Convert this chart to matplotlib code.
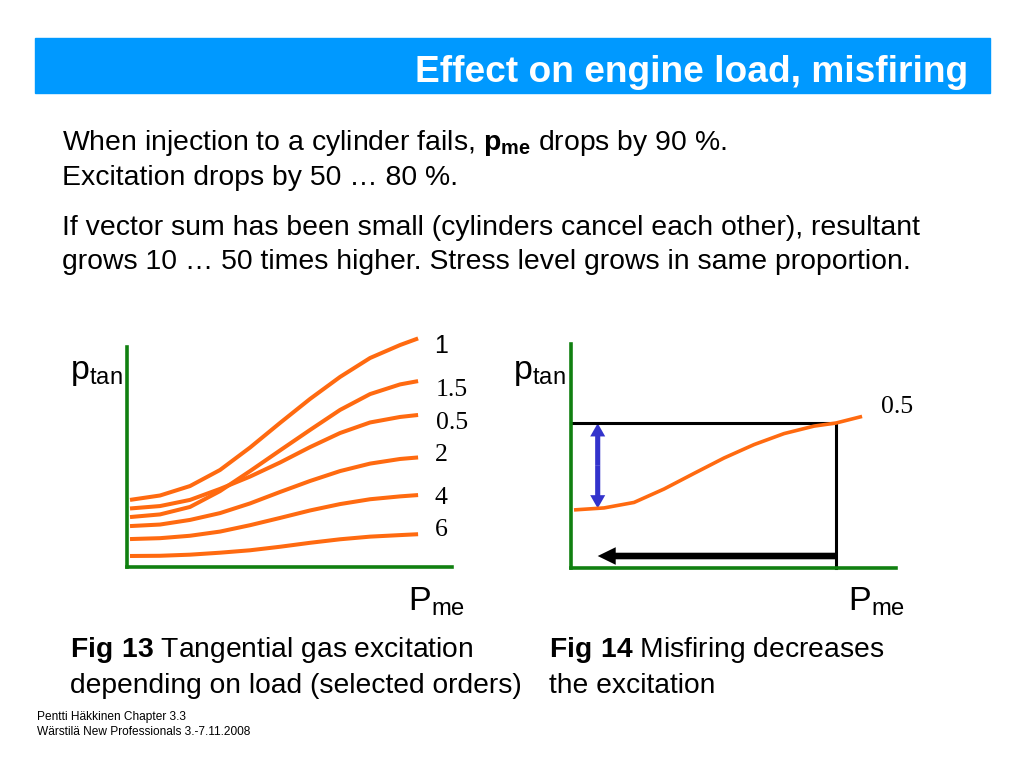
import matplotlib
matplotlib.use('Agg')
import matplotlib.pyplot as plt
from matplotlib.patches import Rectangle

# Data (arbitrary units)
p_me = [0, 1, 2, 3, 4, 5, 6, 7, 8, 9, 9.6]
orders = ['1', '1.5', '0.5', '2', '4', '6']
p_tan = {
    '1':   [3.05, 3.25, 3.68, 4.41, 5.43, 6.55, 7.64, 8.64, 9.50, 10.09, 10.39],
    '1.5': [2.27, 2.39, 2.73, 3.45, 4.36, 5.30, 6.23, 7.14, 7.86, 8.30, 8.45],
    '0.5': [2.66, 2.77, 3.05, 3.55, 4.11, 4.75, 5.45, 6.09, 6.57, 6.82, 6.91],
    '2':   [1.86, 1.93, 2.14, 2.45, 2.89, 3.41, 3.91, 4.36, 4.70, 4.91, 4.98],
    '4':   [1.27, 1.31, 1.42, 1.61, 1.90, 2.23, 2.57, 2.86, 3.08, 3.21, 3.27],
    '6':   [0.50, 0.51, 0.56, 0.65, 0.76, 0.92, 1.10, 1.26, 1.38, 1.45, 1.49],
}

# Fig 14: order 0.5 curve, operating point, misfiring
p_me_14 = [0, 1, 2, 3, 4, 5, 6, 7, 8, 8.73, 9.6]
p_tan_14 = [2.64, 2.73, 2.98, 3.59, 4.30, 5.00, 5.61, 6.11, 6.45, 6.59, 6.89]
op_point = (8.73, 6.58)
misfire_p_me = 0.79
misfire_p_tan = 2.71

orange = '#ff6a10'
green = '#108010'
W, H = 1024, 768

plt.rcParams['font.family'] = ['Liberation Sans', 'DejaVu Sans']
plt.rcParams['mathtext.fontset'] = 'custom'
plt.rcParams['mathtext.rm'] = 'Liberation Sans'
plt.rcParams['mathtext.bf'] = 'Liberation Sans:bold'

fig = plt.figure(figsize=(10.24, 7.68), dpi=100)


def fx(x):
    return x / W


def fy(y):
    return 1 - y / H


# title bar
fig.patches.append(Rectangle((fx(35), fy(93)), fx(955), 55 / H, transform=fig.transFigure,
                             color='#0099ff', zorder=0))
fig.text(fx(968), fy(82), 'Effect on engine load, misfiring', ha='right', va='baseline',
         fontsize=26.7, fontweight='bold', color='white')

# body text
fs = 20.4
fig.text(fx(62), fy(143), r'When injection to a cylinder fails, $\mathbf{p}_{\mathbf{me}}$ drops by 90 %.',
         ha='left', va='center', fontsize=fs)
fig.text(fx(62), fy(178), 'Excitation drops by 50 … 80 %.', ha='left', va='center', fontsize=fs)
fig.text(fx(62), fy(228), 'If vector sum has been small (cylinders cancel each other), resultant',
         ha='left', va='center', fontsize=fs)
fig.text(fx(62), fy(262), 'grows 10 … 50 times higher. Stress level grows in same proportion.',
         ha='left', va='center', fontsize=fs)

# Fig 13
ax1 = fig.add_axes([fx(127), fy(567), 325 / W, 231 / H])
for o in orders:
    ax1.plot(p_me, p_tan[o], color=orange, lw=2.9, clip_on=False, solid_capstyle='butt')

# Fig 14
ax2 = fig.add_axes([fx(571), fy(568), 325 / W, 231 / H])
ax2.plot([-0.1, op_point[0], op_point[0]], [op_point[1], op_point[1], 0], color='black', lw=2.2,
         clip_on=False)
ax2.plot(p_me_14, p_tan_14, color=orange, lw=2.6, clip_on=False, solid_capstyle='butt')
mid = (op_point[1] + misfire_p_tan) / 2
for end in [op_point[1], misfire_p_tan]:
    ax2.arrow(misfire_p_me, mid, 0, end - mid, width=0.17, head_width=0.5, head_length=0.6,
              length_includes_head=True, color='#3333cc', lw=0)
ax2.arrow(op_point[0], 0.545, misfire_p_me - op_point[0], 0, width=0.3, head_width=0.8,
          head_length=0.6, length_includes_head=True, color='black', lw=0)

for ax, top in [(ax1, 10), (ax2, 10.2)]:
    ax.set_xlim(-0.1, 10.73)
    ax.set_ylim(0, 10.5)
    ax.spines['top'].set_visible(False)
    ax.spines['right'].set_visible(False)
    for s in ['left', 'bottom']:
        ax.spines[s].set_color(green)
        ax.spines[s].set_linewidth(2.6)
    ax.spines['left'].set_bounds(0, top)
    ax.set_xticks([])
    ax.set_yticks([])
    ax.patch.set_alpha(0)

# axis labels
for x0 in [70, 513]:
    fig.text(fx(x0), fy(379), r'p$_{\mathrm{tan}}$', ha='left', va='baseline', fontsize=24.5)
for x0 in [408, 848]:
    fig.text(fx(x0), fy(610), r'P$_{\mathrm{me}}$', ha='left', va='baseline', fontsize=24.5)

# order labels
fig.text(fx(441), fy(346), '1', ha='center', va='center', fontsize=18)
serif = ['Liberation Serif', 'DejaVu Serif']
for lab, x0, y0 in [('1.5', 452, 390), ('0.5', 452, 423), ('2', 441, 455),
                    ('4', 441, 498), ('6', 441, 530), ('0.5', 897, 407)]:
    fig.text(fx(x0), fy(y0), lab, ha='center', va='center', fontsize=18.5, family=serif)

# captions
cs = 20.3
fig.text(fx(70), fy(650), r'$\mathbf{Fig\ 13}$ Tangential gas excitation', ha='left', va='center',
         fontsize=cs)
fig.text(fx(70), fy(686), 'depending on load (selected orders)', ha='left', va='center', fontsize=cs)
fig.text(fx(549), fy(650), r'$\mathbf{Fig\ 14}$ Misfiring decreases', ha='left', va='center',
         fontsize=cs)
fig.text(fx(549), fy(686), 'the excitation', ha='left', va='center', fontsize=cs)

# footer
fig.text(fx(37), fy(717), 'Pentti Häkkinen Chapter 3.3', ha='left', va='center', fontsize=8.6)
fig.text(fx(37), fy(732), 'Wärstilä New Professionals 3.-7.11.2008', ha='left', va='center',
         fontsize=8.6)

plt.savefig('out.png', dpi=100)
